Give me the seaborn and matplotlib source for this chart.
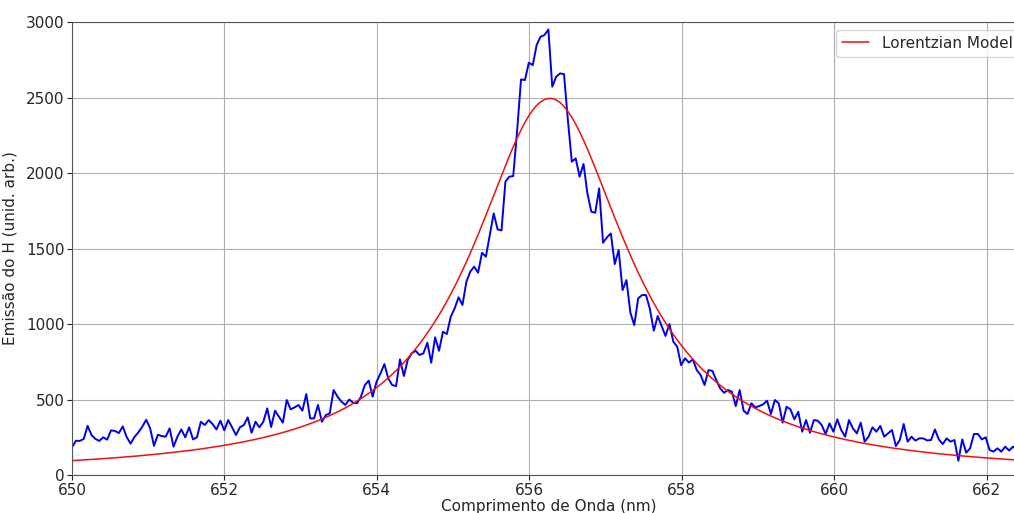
import numpy as np
import pandas as pd
import matplotlib
matplotlib.use("Agg")
import matplotlib.pyplot as plt
import seaborn as sns

sns.set_style("ticks")
plt.rcParams["font.family"] = ["DejaVu Sans"]

emission = [
    183, 227, 226, 239, 326, 265, 239, 226, 250, 234, 296, 292, 278, 322, 252, 208, 252, 283, 320, 366, 311, 194,
    267, 258, 254, 309, 188, 254, 302, 250, 316, 236, 250, 353, 331, 364, 338, 302, 360, 296, 364, 316, 265, 316, 331,
    382, 280, 353, 316, 353, 441, 318, 426, 386, 347, 497, 435, 448, 464, 426, 536, 375, 375, 464, 353, 397, 408,
    563, 519, 486, 464, 500, 479, 475, 519, 596, 625, 519, 618, 673, 735, 640, 596, 589, 766, 656, 764, 806,
    823, 795, 806, 876, 744, 912, 823, 949, 934, 1049, 1104, 1177, 1126, 1280, 1347, 1380, 1340, 1472, 1446, 1590, 1733,
    1627, 1620, 1943, 1976, 1980, 2280, 2620, 2616, 2731, 2715, 2848, 2903, 2914, 2951, 2572, 2638, 2660, 2655, 2350, 2075, 2097,
    1976, 2060, 1865, 1744, 1737, 1898, 1539, 1574, 1600, 1397, 1490, 1225, 1291, 1075, 993, 1170, 1192, 1192, 1100, 956, 1053,
    987, 921, 1000, 883, 850, 728, 773, 745, 766, 695, 662, 596, 695, 690, 629, 574, 545, 563, 552, 457, 563, 426,
    404, 475, 448, 457, 468, 492, 404, 497, 475, 347, 452, 435, 369, 419, 287, 364, 280, 364, 360, 331, 272, 342,
    287, 369, 298, 254, 364, 309, 276, 347, 221, 254, 316, 287, 325, 254, 276, 298, 192, 232, 338, 221, 254, 228, 243,
    243, 229, 232, 302, 236, 205, 243, 221, 232, 95, 236, 148, 177, 272, 272, 236, 250, 166, 155, 177, 155, 188, 162, 188, 166, 166,
]
wl_start, wl_end = 650.0, 662.45

# Lorentzian fit parameters
amp = 2495.0
center = 656.27
gamma = 1.25

wl = np.linspace(wl_start, wl_end, len(emission))
model = amp * gamma**2 / ((wl - center)**2 + gamma**2)

df = pd.DataFrame({"wl": wl, "emission": emission, "model": model})

fig = plt.figure(figsize=(10.14, 5.13), dpi=100)
ax = fig.add_axes([0.071, 0.074, 0.941, 0.883])

sns.lineplot(data=df, x="wl", y="emission", color="#0000ee", linewidth=1.4, ax=ax)
sns.lineplot(data=df, x="wl", y="model", color="#ee1111", linewidth=1.1,
             label="Lorentzian Model", ax=ax)

ax.set_xlim(650, 662.52)
ax.set_ylim(0, 3000)
ax.set_xticks(np.arange(650, 663, 2))
ax.set_yticks(np.arange(0, 3001, 500))
ax.grid(True, color="#b0b0b0", linewidth=0.8)
ax.tick_params(labelsize=11, pad=2)
ax.set_xlabel("Comprimento de Onda (nm)", fontsize=11, labelpad=1)
ax.set_ylabel("Emissão do H (unid. arb.)", fontsize=11, labelpad=6)
for s in ax.spines.values():
    s.set_color("#555555")
ax.legend(loc="upper right", fontsize=11, handlelength=1.8)

plt.savefig("out.png", dpi=100)
plt.close()
